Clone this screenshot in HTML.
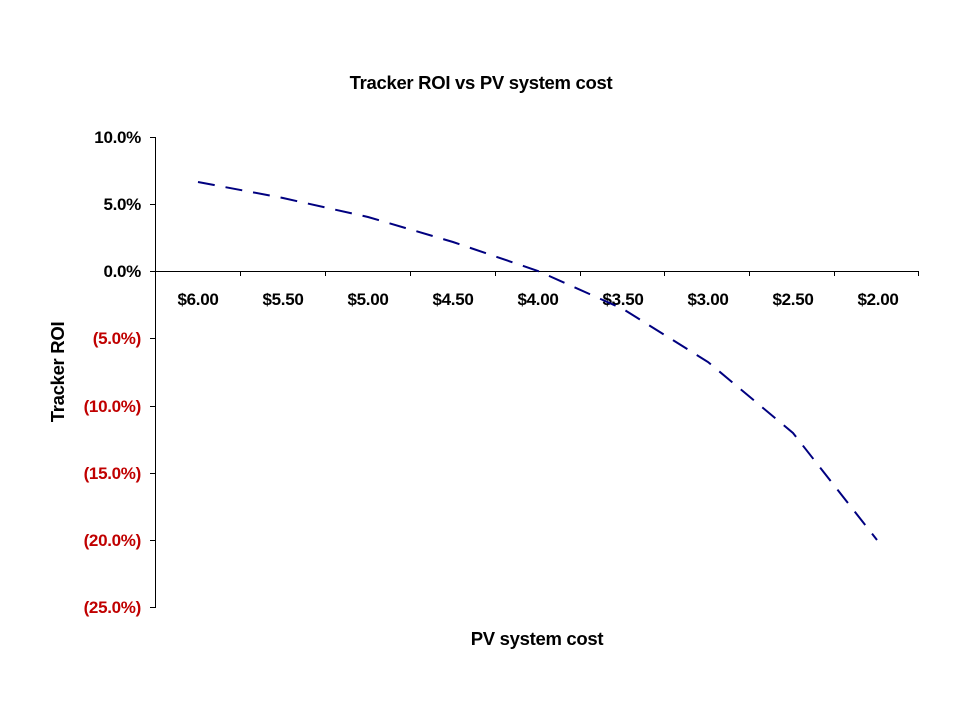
<!DOCTYPE html>
<html><head><style>body{margin:0;background:#fff}</style></head><body>
<svg width="960" height="720" xmlns="http://www.w3.org/2000/svg" font-family="Liberation Sans, Arial, sans-serif" font-weight="bold">
<rect width="960" height="720" fill="#fff"/>
<text x="481" y="89" font-size="18.5" text-anchor="middle" letter-spacing="-0.3">Tracker ROI vs PV system cost</text>
<g stroke="#000" stroke-width="1">
<line x1="155.5" y1="137" x2="155.5" y2="608"/>
<line x1="155" y1="271.5" x2="918" y2="271.5"/>
<line x1="150" y1="137.5" x2="155" y2="137.5"/>
<line x1="150" y1="204.5" x2="155" y2="204.5"/>
<line x1="150" y1="271.5" x2="155" y2="271.5"/>
<line x1="150" y1="338.5" x2="155" y2="338.5"/>
<line x1="150" y1="406.5" x2="155" y2="406.5"/>
<line x1="150" y1="473.5" x2="155" y2="473.5"/>
<line x1="150" y1="540.5" x2="155" y2="540.5"/>
<line x1="150" y1="607.5" x2="155" y2="607.5"/>
<line x1="240.5" y1="271" x2="240.5" y2="276"/>
<line x1="325.5" y1="271" x2="325.5" y2="276"/>
<line x1="410.5" y1="271" x2="410.5" y2="276"/>
<line x1="495.5" y1="271" x2="495.5" y2="276"/>
<line x1="580.5" y1="271" x2="580.5" y2="276"/>
<line x1="664.5" y1="271" x2="664.5" y2="276"/>
<line x1="749.5" y1="271" x2="749.5" y2="276"/>
<line x1="834.5" y1="271" x2="834.5" y2="276"/>
<line x1="918.5" y1="271" x2="918.5" y2="276"/>
</g>
<g font-size="17" text-anchor="end" letter-spacing="-0.3">
<text x="141" y="143">10.0%</text>
<text x="141" y="210">5.0%</text>
<text x="141" y="277">0.0%</text>
<g fill="#c00000">
<text x="141" y="344">(5.0%)</text>
<text x="141" y="412">(10.0%)</text>
<text x="141" y="479">(15.0%)</text>
<text x="141" y="546">(20.0%)</text>
<text x="141" y="613">(25.0%)</text>
</g></g>
<g font-size="17" text-anchor="middle" letter-spacing="-0.3">
<text x="198" y="305">$6.00</text>
<text x="283" y="305">$5.50</text>
<text x="368" y="305">$5.00</text>
<text x="453" y="305">$4.50</text>
<text x="538" y="305">$4.00</text>
<text x="623" y="305">$3.50</text>
<text x="708" y="305">$3.00</text>
<text x="793" y="305">$2.50</text>
<text x="878" y="305">$2.00</text>
</g>
<text x="537" y="645" font-size="18.5" text-anchor="middle" letter-spacing="-0.3">PV system cost</text>
<text transform="translate(64,372) rotate(-90)" font-size="18.5" text-anchor="middle" letter-spacing="-0.3">Tracker ROI</text>
<polyline fill="none" stroke="#000080" stroke-width="2" stroke-dasharray="17,11" points="198,182 283,198 368,217 453,242 538,271 623,309 708,362 793,433 877,540"/>
</svg>
</body></html>
